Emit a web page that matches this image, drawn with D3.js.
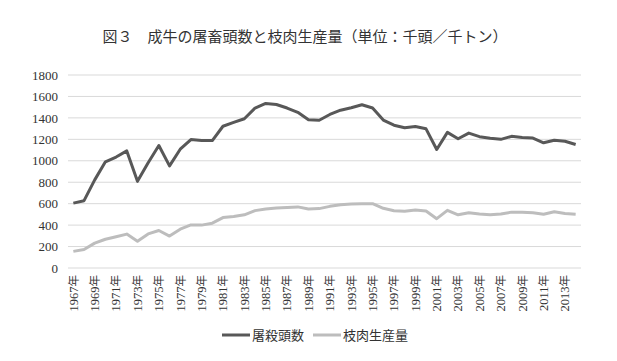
<!DOCTYPE html>
<html>
<head>
<meta charset="utf-8">
<script src="https://cdn.jsdelivr.net/npm/d3@7"></script>
<style>
  body { margin: 0; background: #fff; }
  #chart { width: 617px; height: 361px; }
  svg text { fill: #333; }
</style>
</head>
<body>
<div id="chart"></div>
<script>
const years = d3.range(1967, 2015);
const slaughter = [605, 628, 822, 990, 1035, 1092, 808, 982, 1142, 952, 1108, 1198, 1190, 1188,
  1322, 1358, 1392, 1492, 1535, 1525, 1492, 1452, 1382, 1378, 1432, 1472, 1495, 1522, 1492,
  1380, 1332, 1308, 1320, 1298, 1105, 1265, 1205, 1258, 1225, 1210, 1200, 1228, 1217, 1212,
  1168, 1192, 1182, 1152];
const meat = [155, 172, 232, 268, 292, 316, 250, 318, 350, 298, 362, 402, 400, 418,
  470, 480, 496, 535, 550, 560, 565, 570, 550, 554, 575, 590, 596, 600, 600,
  557, 534, 530, 540, 532, 460, 538, 496, 515, 503, 496, 504, 521, 520, 516,
  502, 524, 509, 502];
const yTicks = [0, 200, 400, 600, 800, 1000, 1200, 1400, 1600, 1800];
const title = "図３　成牛の屠畜頭数と枝肉生産量（単位：千頭／千トン）";
const seriesNames = ["屠殺頭数", "枝肉生産量"];
const seriesColors = ["#585858", "#bdbdbd"];
const serif = "'Liberation Serif', serif";
const cjk = "'Noto Sans CJK JP', sans-serif";

function draw() {
  const width = 617, height = 361;
  const margin = { top: 75, right: 36, bottom: 93, left: 68 };
  const innerW = width - margin.left - margin.right;
  const innerH = height - margin.top - margin.bottom;

  const svg = d3.select("#chart").append("svg").attr("width", width).attr("height", height);

  svg.append("text")
    .attr("x", 305).attr("y", 42)
    .attr("text-anchor", "middle")
    .style("font-family", cjk)
    .style("font-size", "15px")
    .text(title);

  const g = svg.append("g").attr("transform", `translate(${margin.left},${margin.top})`);

  const x = d3.scaleBand().domain(years).range([0, innerW]);
  const y = d3.scaleLinear().domain([0, 1800]).range([innerH, 0]);

  // gridlines
  g.append("g").selectAll("line")
    .data(yTicks)
    .enter().append("line")
    .attr("x1", 0).attr("x2", innerW)
    .attr("y1", d => y(d)).attr("y2", d => y(d))
    .attr("stroke", "#d9d9d9").attr("stroke-width", 1);

  const yAxis = g.append("g").call(d3.axisLeft(y).tickValues(yTicks).tickFormat(d3.format("d"))
    .tickSize(0).tickPadding(10));
  yAxis.select(".domain").remove();
  yAxis.selectAll("text").style("font-size", "13px").style("font-family", serif).attr("fill", "#333");

  const xAxis = g.append("g")
    .attr("transform", `translate(0,${innerH})`)
    .call(d3.axisBottom(x).tickValues(years.filter((d, i) => i % 2 === 0)).tickSize(0));
  xAxis.select(".domain").remove();
  const xt = xAxis.selectAll("text")
    .text(null)
    .attr("transform", "rotate(-90)")
    .attr("x", -7).attr("y", 0).attr("dy", "0.35em")
    .attr("text-anchor", "end")
    .attr("fill", "#333")
    .style("font-size", "12.5px");
  xt.append("tspan").style("font-family", serif).text(d => d);
  xt.append("tspan").style("font-family", cjk).style("font-size", "11.5px").text("年");

  const line = d3.line()
    .x((d, i) => x(years[i]) + x.bandwidth() / 2)
    .y(d => y(d));

  [slaughter, meat].forEach((s, k) => {
    g.append("path")
      .datum(s)
      .attr("fill", "none")
      .attr("stroke", seriesColors[k])
      .attr("stroke-width", 3)
      .attr("stroke-linejoin", "round")
      .attr("d", line);
  });

  // legend
  const legendX = [222, 313];
  seriesNames.forEach((name, k) => {
    const lg = svg.append("g").attr("transform", `translate(${legendX[k]},335)`);
    lg.append("line").attr("x1", 0).attr("x2", 28).attr("y1", 0).attr("y2", 0)
      .attr("stroke", seriesColors[k]).attr("stroke-width", 3);
    lg.append("text").attr("x", 30).attr("y", 0).attr("dy", "0.35em")
      .style("font-family", cjk)
      .style("font-size", "13px").text(name);
  });
}

draw();
</script>
</body>
</html>
